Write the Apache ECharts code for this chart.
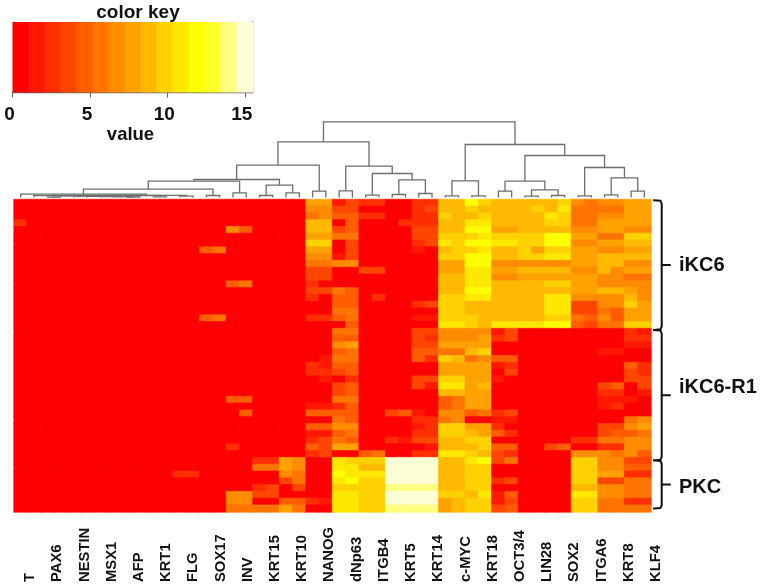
<!DOCTYPE html>
<html>
<head>
<meta charset="utf-8">
<style>html,body{margin:0;padding:0;background:#fff}#c{width:761px;height:585px}</style>
<script src="https://cdn.jsdelivr.net/npm/echarts@6/dist/echarts.min.js"></script>
</head>
<body>
<div id="c"></div>
<script>
const genes = ['T','PAX6','NESTIN','MSX1','AFP','KRT1','FLG','SOX17','INV','KRT15','KRT10','NANOG','dNp63','ITGB4','KRT5','KRT14','c-MYC','KRT18','OCT3/4','LIN28','SOX2','ITGA6','KRT8','KLF4'];
const bandColors = ['#FF0000','#FF1700','#FF2E00','#FF4600','#FF5D00','#FF7400','#FF8B00','#FFA200','#FFB900','#FFD100','#FFE800','#FFFF00','#FFFF2A','#FFFF80','#FFFFD5'];
const keyTicks = [0,5,10,15];
const keyMax = 15.5;

// Replicate pairs from NANOG to KLF4 (26 columns), one row per sample.
const iKC6Rows = [
 [7,7,1,3,2,2,0,0,2,2,8,8,11,9,8,8,8,8,8,9,6,5,6,6,7,7],
 [6,6,3,3,0,0,0,0,2,3,8,8,9,8,8,8,8,9,8,10,5,5,5,5,7,7],
 [5,6,4,4,2,2,0,0,2,2,9,8,8,9,8,8,8,8,10,9,5,5,6,6,7,7],
 [8,8,0,4,0,0,0,2,2,2,8,8,10,10,8,8,8,8,9,9,5,5,7,7,7,7],
 [8,8,3,4,0,0,0,0,3,3,8,8,11,11,7,7,8,8,8,8,6,6,7,7,6,6],
 [7,7,5,5,0,0,0,0,3,3,9,9,9,10,9,9,9,9,11,11,7,7,5,5,9,9],
 [9,9,0,3,0,0,0,0,2,3,10,9,11,11,10,10,9,9,11,11,6,6,7,7,8,8],
 [7,7,0,3,0,0,0,0,1,0,8,9,9,10,8,8,9,7,9,9,7,7,6,6,7,7],
 [6,6,1,3,0,0,0,0,0,0,9,9,11,11,8,8,9,9,10,10,7,7,8,8,8,8],
 [5,5,6,6,0,0,0,0,0,0,7,7,11,11,6,6,6,6,6,6,7,7,8,8,6,6],
 [3,3,0,0,3,3,0,0,0,0,7,7,10,10,7,7,8,8,8,8,6,6,8,6,7,7],
 [3,3,0,0,0,0,0,0,0,0,8,8,10,10,6,6,7,7,7,7,7,7,6,6,5,5],
 [2,0,0,0,0,0,0,0,0,0,8,8,10,10,8,8,8,8,9,9,7,7,6,6,6,6],
 [3,3,5,4,0,0,0,0,0,0,8,8,11,11,8,8,8,8,8,8,7,7,8,8,7,6],
 [2,0,4,4,0,2,0,0,0,0,9,9,10,10,8,8,8,8,10,10,6,6,6,6,8,6],
 [0,0,4,4,0,0,0,0,2,3,9,9,8,8,8,8,8,8,10,10,3,3,6,6,9,7],
 [0,0,5,5,0,0,0,0,0,0,9,9,8,8,8,8,8,8,10,10,3,3,5,4,7,7],
 [2,2,4,5,0,0,0,0,1,1,9,9,9,8,8,8,8,8,9,9,5,4,6,4,7,7],
 [0,0,0,4,0,0,0,0,0,0,10,10,9,8,10,10,10,10,11,11,4,3,5,5,9,9]
];
const iKC6R1Rows = [
 [0,0,5,5,0,0,0,0,3,3,6,6,6,6,1,3,0,0,0,0,0,0,0,0,2,1],
 [0,0,4,4,0,0,0,0,3,2,6,6,6,7,2,3,0,0,0,0,0,0,0,0,2,2],
 [0,0,6,7,0,0,0,0,3,3,7,7,7,7,0,0,0,0,0,0,0,0,0,0,1,1],
 [0,0,4,5,0,0,0,0,4,4,5,5,8,9,0,0,0,0,0,0,0,0,1,1,0,0],
 [0,1,5,5,0,0,0,0,4,2,9,8,5,6,4,4,0,0,0,0,0,0,0,0,0,0],
 [2,1,4,4,0,0,0,0,0,0,7,7,7,7,1,2,0,0,0,0,0,0,0,0,4,2],
 [2,2,3,4,0,0,0,0,0,0,7,7,7,7,0,3,0,0,0,0,0,0,0,0,3,2],
 [0,1,0,2,0,0,0,0,3,3,9,9,7,7,1,0,0,0,0,0,0,0,0,0,3,3],
 [0,0,3,4,0,0,0,0,3,1,10,10,7,8,0,0,0,0,0,0,0,0,3,4,0,3],
 [0,0,3,4,0,0,0,0,0,0,8,8,7,7,0,0,0,0,0,0,0,0,2,2,0,1],
 [0,0,5,5,0,0,0,0,0,0,4,5,7,7,0,0,0,0,0,0,0,0,1,1,1,0],
 [1,1,2,4,0,0,0,0,0,0,4,5,7,7,0,0,0,0,0,0,0,0,1,2,0,0],
 [4,4,4,4,0,0,3,4,1,0,6,6,4,5,2,3,0,0,0,0,0,0,0,0,0,0],
 [0,0,5,4,0,0,0,0,2,2,5,6,0,0,1,1,0,0,0,0,0,0,0,0,5,6],
 [4,4,6,6,0,0,0,0,1,2,9,9,7,7,2,0,0,0,0,0,0,0,3,3,6,7],
 [1,1,4,5,0,0,0,0,2,2,9,9,8,7,4,2,0,0,0,0,0,0,3,4,4,5],
 [2,3,5,4,0,0,2,1,3,3,8,8,9,9,0,0,0,0,0,0,2,2,5,5,6,6],
 [4,3,7,7,0,0,0,0,0,1,8,8,8,9,4,4,0,0,3,4,0,0,2,2,6,6],
 [2,3,0,0,4,5,0,0,2,2,10,10,9,8,3,2,0,0,0,0,6,6,6,5,6,4]
];
const pkcRows = [
 [0,0,10,9,9,9,14,14,14,14,8,8,10,11,3,5,0,0,0,0,9,9,6,6,3,3],
 [0,0,10,10,8,8,14,14,14,14,8,8,9,9,0,0,0,0,0,0,9,9,6,6,4,4],
 [0,0,11,10,10,10,14,14,14,14,8,8,9,9,0,0,0,0,0,0,9,9,7,7,2,2],
 [0,0,10,11,9,9,14,14,14,14,8,8,9,9,2,3,0,0,0,0,9,9,3,3,5,5],
 [0,0,9,9,9,9,13,13,13,13,8,8,9,9,0,0,0,0,0,0,8,8,6,6,5,5],
 [0,0,10,10,9,9,14,14,14,14,9,9,8,10,1,4,0,0,0,0,10,10,6,6,5,5],
 [2,1,10,10,9,9,14,14,14,14,7,8,9,9,1,3,0,0,0,0,9,9,5,5,2,2],
 [0,0,10,10,9,9,13,13,13,13,7,8,9,9,3,4,0,0,0,0,9,9,5,5,5,5]
];
// Non-zero cells in the 22 mostly silent columns from T to KRT10: [row, column, value].
const silentColumnCells = [
 [3,0,2],[4,16,6],[4,17,4],[7,14,4],[7,15,5],[12,16,4],[12,17,5],[17,14,4],[17,15,5],
 [29,16,4],[29,17,4],[31,17,4],[36,16,2],[40,12,2],[40,13,2],
 [38,18,2],[38,19,2],[38,20,7],[38,21,6],[39,18,5],[39,19,5],[39,20,7],[39,21,6],
 [40,20,6],[40,21,5],[41,20,3],[41,21,5],[42,18,2],[42,19,3],[42,21,3],
 [43,16,6],[43,17,6],[43,18,3],[43,19,3],[44,16,6],[44,17,6],[44,20,4],[44,21,4],
 [45,16,5],[45,17,5],[45,18,5],[45,19,5],[45,20,7],[45,21,5]
];
// Column dendrogram: [child, child, height]; ids under 48 are columns, merge k has id 48+k.
const merges = [
 [2,3,.3],[8,9,.5],[7,49,.8],[6,50,1],[5,51,1.2],[4,52,1.4],[48,53,1.6],[1,54,1.8],[10,11,.6],[55,56,2],
 [12,13,1.3],[57,58,2.2],[0,59,3.3],[14,15,2],[60,61,8.3],[16,17,4.7],[62,63,16.3],[18,19,2],[20,21,4.7],[65,66,12.3],
 [64,67,18],[22,23,6.3],[68,69,32.3],[24,25,6.7],[26,27,2.3],[28,29,3],[30,31,4],[73,74,17.7],[72,75,24],[71,76,31.3],
 [70,77,55.7],[32,33,1.7],[34,35,1.7],[79,80,16.7],[36,37,6.3],[38,39,1.3],[40,41,2],[83,84,7.7],[82,85,16.3],[42,43,1.7],
 [44,45,2.7],[46,47,6.3],[88,89,19.7],[87,90,30],[86,91,42],[81,92,53],[78,93,75.7]
];
const groupNames = ['iKC6','iKC6-R1','PKC'];
const groupStartRows = [0.1,19.2,38.4];
const groupEndRows = [19.2,38.4,45.5];
const groupLabelRows = [9.7,27.7,42.4];

const rightRows = iKC6Rows.concat(iKC6R1Rows, pkcRows);
const nRows = rightRows.length, nCols = 48;
const cellValues = [];
rightRows.forEach((row,r)=>{
  for(let c=0;c<22;c++) cellValues.push([c,r,0]);
  row.forEach((v,i)=>cellValues.push([22+i,r,v]));
});
silentColumnCells.forEach(([r,c,v])=>{ cellValues[r*nCols+c][2]=v; });
// Each cell carries a hairline border of its own colour so fractional cell sizes leave no seams.
const cellData = cellValues.map(v=>({value:v,itemStyle:{color:bandColors[v[2]],borderColor:bandColors[v[2]],borderWidth:0.6}}));

const nodeX=[], nodeH=[];
for(let i=0;i<nCols;i++){nodeX[i]=i+.5;nodeH[i]=0;}
const dendroData = merges.map(([a,b,h],k)=>{
  nodeX[nCols+k]=(nodeX[a]+nodeX[b])/2; nodeH[nCols+k]=h;
  return [nodeX[a],nodeH[a],nodeX[b],nodeH[b],h];
});
const keyData = bandColors.map((_,i)=>[i*keyMax/15,(i+1)*keyMax/15,i]);
const groupData = groupNames.map((n,i)=>[groupStartRows[i],groupEndRows[i],groupLabelRows[i],i]);

const FONT='"Liberation Sans", Arial, sans-serif';
const seq=n=>Array.from({length:n},(_,i)=>i);
const chart=echarts.init(document.getElementById('c'),null,{renderer:'canvas'});
chart.setOption({
  animation:false,
  backgroundColor:'#fff',
  title:{text:'color key',left:133,top:-2,textAlign:'center',textStyle:{fontFamily:FONT,fontWeight:'bold',fontSize:19,color:'#111'}},
  grid:[
    {left:14,top:199.5,width:637,height:312.5},
    {left:14,top:121,width:637,height:76.5},
    {left:12.5,top:22,width:240,height:70.5},
    {left:16.4,top:515,width:653.2,height:1},
    {left:653,top:199.5,width:20,height:312.5}
  ],
  xAxis:[
    {gridIndex:0,type:'category',data:seq(nCols),show:false},
    {gridIndex:1,type:'value',min:0,max:nCols,show:false},
    {gridIndex:2,type:'value',min:0,max:keyMax,interval:5,splitLine:{show:false},
     axisLine:{show:true,lineStyle:{color:'#666',width:1.3}},axisTick:{show:true,length:5,lineStyle:{color:'#666'},customValues:keyTicks},
     axisLabel:{fontFamily:FONT,fontWeight:'bold',fontSize:19,color:'#111',margin:13,padding:[0,6,0,0],
       customValues:keyTicks,hideOverlap:false},
     name:'value',nameLocation:'middle',nameGap:33,nameTextStyle:{fontFamily:FONT,fontWeight:'bold',fontSize:18.5,color:'#111',padding:[0,4,0,0]}},
    {gridIndex:3,type:'category',data:genes,axisLine:{show:false},axisTick:{show:false},
     axisLabel:{interval:0,rotate:90,align:'left',margin:66,fontFamily:FONT,fontWeight:'bold',fontSize:14.8,color:'#111'}},
    {gridIndex:4,type:'value',min:0,max:20,show:false}
  ],
  yAxis:[
    {gridIndex:0,type:'category',data:seq(nRows),inverse:true,show:false},
    {gridIndex:1,type:'value',min:0,max:76.5,show:false},
    {gridIndex:2,type:'value',min:0,max:1,position:'right',splitLine:{show:false},axisLabel:{show:false},axisTick:{show:false},
     axisLine:{show:true,onZero:false,lineStyle:{color:'#666',width:1.3}}},
    {gridIndex:3,type:'value',min:0,max:1,show:false},
    {gridIndex:4,type:'value',min:0,max:nRows,inverse:true,show:false}
  ],
  series:[
    {type:'heatmap',xAxisIndex:0,yAxisIndex:0,data:cellData,progressive:0,emphasis:{disabled:true}},
    {type:'custom',xAxisIndex:1,yAxisIndex:1,data:dendroData,clip:false,silent:true,
     renderItem:(p,api)=>{
       const xa=api.value(0),ha=api.value(1),xb=api.value(2),hb=api.value(3),h=api.value(4);
       return {type:'polyline',shape:{points:[api.coord([xa,ha]),api.coord([xa,h]),api.coord([xb,h]),api.coord([xb,hb])]},
         style:{fill:null,stroke:'#6e6e6e',lineWidth:1.3}};
     }},
    {type:'custom',xAxisIndex:2,yAxisIndex:2,data:keyData,silent:true,
     renderItem:(p,api)=>{
       const a=api.coord([api.value(0),1]),b=api.coord([api.value(1),0]);
       return {type:'rect',shape:{x:a[0],y:a[1],width:b[0]-a[0]+.5,height:b[1]-a[1]},
         style:{fill:bandColors[api.value(2)]}};
     }},
    {type:'line',xAxisIndex:3,yAxisIndex:3,data:[],silent:true},
    {type:'custom',xAxisIndex:4,yAxisIndex:4,data:groupData,clip:false,silent:true,
     renderItem:(p,api)=>{
       const s=api.value(0),e=api.value(1),l=api.value(2),i=api.value(3),m=(s+e)/2;
       const st={fill:null,stroke:'#111',lineWidth:2,lineCap:'round',lineJoin:'round'};
       return {type:'group',children:[
         {type:'polyline',shape:{points:[api.coord([1,s]),api.coord([7.5,s+.1]),api.coord([8.7,s+.5]),api.coord([8.7,e-.5]),api.coord([7.5,e-.1]),api.coord([1,e])]},style:st},
         {type:'line',shape:{x1:api.coord([8.7,m])[0],y1:api.coord([8.7,m])[1],x2:api.coord([17,m])[0],y2:api.coord([17,m])[1]},style:st},
         {type:'text',x:api.coord([26,l])[0],y:api.coord([26,l])[1],
          style:{text:groupNames[i],fill:'#111',font:'bold 20px '+FONT,textAlign:'left',textVerticalAlign:'middle'}}
       ]};
     }}
  ]
});
</script>
</body>
</html>
